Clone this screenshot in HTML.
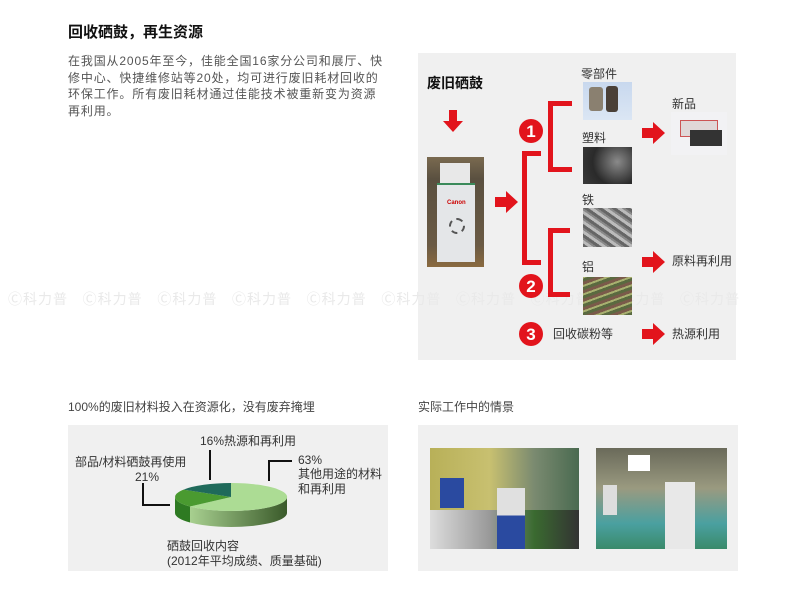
<!DOCTYPE html>
<html><head><meta charset="utf-8"><style>
body{margin:0;width:790px;height:596px;background:#fff;position:relative;overflow:hidden;font-family:"Liberation Sans","Noto Sans CJK SC",sans-serif;color:#333}
.a{position:absolute;white-space:nowrap}
.t{font-size:12px;line-height:12px}
</style></head><body>
<div class="a" style="left:68px;top:21px;font-size:15px;font-weight:bold;color:#111">回收硒鼓，再生资源</div>
<div class="a" style="left:68px;top:53px;font-size:12px;line-height:16.6px;color:#555;letter-spacing:0.85px">在我国从2005年至今，佳能全国16家分公司和展厅、快<br>修中心、快捷维修站等20处，均可进行废旧耗材回收的<br>环保工作。所有废旧耗材通过佳能技术被重新变为资源<br>再利用。</div>

<div class="a" style="left:418px;top:53px;width:318px;height:307px;background:#f0f0f0"></div>
<div class="a" style="left:427px;top:73px;font-size:14px;font-weight:bold;color:#111">废旧硒鼓</div>
<!-- watermarks -->
<div class="a" style="left:8px;top:289px;font-size:14px;color:#e9e9e9;letter-spacing:1px">Ⓒ科力普 &nbsp; Ⓒ科力普 &nbsp; Ⓒ科力普 &nbsp; Ⓒ科力普 &nbsp; Ⓒ科力普 &nbsp; Ⓒ科力普 &nbsp; Ⓒ科力普 &nbsp; Ⓒ科力普 &nbsp; Ⓒ科力普 &nbsp; Ⓒ科力普</div>
<svg class="a" style="left:0;top:0" width="790" height="596">
<g fill="#e2141c">
<polygon points="449,110 457,110 457,121 463,121 453,132 443,121 449,121"/>
<polygon points="495,197 506,197 506,191 518,202 506,213 506,207 495,207"/>
<polygon points="642,128 653,128 653,122 665,133 653,144 653,138 642,138"/>
<polygon points="642,257 653,257 653,251 665,262 653,273 653,267 642,267"/>
<polygon points="642,329 653,329 653,323 665,334 653,345 653,339 642,339"/>
<path d="M541,151 h-19 v114 h19 v-5 h-14 v-104 h14z"/>
<path d="M572,101 h-24 v71 h24 v-5 h-19 v-61 h19z"/>
<path d="M570,228 h-22 v69 h22 v-5 h-17 v-59 h17z"/>
<circle cx="531" cy="131" r="12"/><circle cx="531" cy="286" r="12"/><circle cx="531" cy="334" r="12"/>
</g>
<g fill="#fff" font-size="17" font-weight="bold" text-anchor="middle" font-family="Liberation Sans,sans-serif">
<text x="531" y="137">1</text><text x="531" y="292">2</text><text x="531" y="340">3</text></g>
</svg>
<!-- bin -->
<div class="a" style="left:427px;top:157px;width:57px;height:110px;background:linear-gradient(#7a6a50,#5a5040 20%,#6a5a44 80%,#8a6a40)"></div>
<div class="a" style="left:440px;top:163px;width:30px;height:20px;background:#e8e8e8"></div>
<div class="a" style="left:437px;top:183px;width:38px;height:77px;background:#e4e6e8;border-top:2px solid #3a8a5a"></div>
<div class="a" style="left:447px;top:200px;font-size:6px;color:#c00;font-weight:bold">Canon</div>
<div class="a" style="left:449px;top:218px;width:12px;height:12px;border:2px dashed #555;border-radius:50%"></div>
<!-- item images -->
<div class="a" style="left:583px;top:82px;width:49px;height:38px;background:linear-gradient(#c8d8ee,#dbe6f4);"></div>
<div class="a" style="left:589px;top:87px;width:14px;height:24px;background:#8a8070;border-radius:3px"></div>
<div class="a" style="left:606px;top:86px;width:12px;height:26px;background:#4a4038;border-radius:3px"></div>
<div class="a" style="left:583px;top:147px;width:49px;height:37px;background:radial-gradient(circle at 70% 40%,#8a8a8a,#2a2a2a 60%,#3a3a3a)"></div>
<div class="a" style="left:583px;top:208px;width:49px;height:39px;background:repeating-linear-gradient(35deg,#666 0 3px,#bbb 3px 6px,#888 6px 8px)"></div>
<div class="a" style="left:583px;top:277px;width:49px;height:38px;background:repeating-linear-gradient(-20deg,#5a6a40 0 3px,#a8b070 3px 5px,#7a5a4a 5px 8px)"></div>
<div class="a" style="left:671px;top:112px;width:56px;height:43px;background:#f2f2f4"></div>
<div class="a" style="left:680px;top:120px;width:36px;height:15px;background:#e0d8d8;border:1px solid #c55"></div>
<div class="a" style="left:690px;top:130px;width:32px;height:16px;background:#333"></div>
<div class="a t" style="left:581px;top:68px">零部件</div>
<div class="a t" style="left:582px;top:132px">塑料</div>
<div class="a t" style="left:582px;top:194px">铁</div>
<div class="a t" style="left:582px;top:261px">铝</div>
<div class="a t" style="left:553px;top:328px">回收碳粉等</div>
<div class="a t" style="left:672px;top:98px">新品</div>
<div class="a t" style="left:672px;top:255px">原料再利用</div>
<div class="a t" style="left:672px;top:328px">热源利用</div>

<div class="a t" style="left:68px;top:401px;color:#444">100%的废旧材料投入在资源化，没有废弃掩埋</div>
<div class="a t" style="left:418px;top:401px;color:#444">实际工作中的情景</div>
<div class="a" style="left:68px;top:425px;width:320px;height:146px;background:#f0f0f0"></div>
<div class="a" style="left:418px;top:425px;width:320px;height:146px;background:#f0f0f0"></div>
<svg class="a" style="left:0;top:0" width="790" height="596">
<defs><linearGradient id="s" x1="0" x2="1"><stop offset="0" stop-color="#a8d090"/><stop offset="1" stop-color="#3a5a2a"/></linearGradient></defs>
<path d="M287,497 A56,14 0 0,1 190,506.5 L190,522.5 A56,14 0 0,0 287,513 Z" fill="url(#s)"/>
<path d="M190,506.5 A56,14 0 0,1 175,497 L175,513 A56,14 0 0,0 190,522.5 Z" fill="#2e7a22"/>
<path d="M231,497 L231,483 A56,14 0 1,1 190,506.5 Z" fill="#acdc94"/>
<path d="M231,497 L190,506.5 A56,14 0 0,1 183.5,489.6 Z" fill="#4a9a30"/>
<path d="M231,497 L183.5,489.6 A56,14 0 0,1 231,483 Z" fill="#1f6a5a"/>
<g stroke="#111" stroke-width="2" fill="none">
<path d="M210,450 V480"/><path d="M143,483 V505 H170"/><path d="M269,481 V461 H292"/></g>
</svg>
<div class="a t" style="left:200px;top:435px;color:#333">16%热源和再利用</div>
<div class="a t" style="left:75px;top:456px">部品/材料硒鼓再使用</div>
<div class="a t" style="left:135px;top:471px">21%</div>
<div class="a t" style="left:298px;top:454px">63%</div>
<div class="a t" style="left:298px;top:468px">其他用途的材料</div>
<div class="a t" style="left:298px;top:483px">和再利用</div>
<div class="a t" style="left:167px;top:540px">硒鼓回收内容</div>
<div class="a t" style="left:167px;top:555px">(2012年平均成绩、质量基础)</div>
<!-- photos -->
<div class="a" style="left:430px;top:448px;width:149px;height:101px;background:linear-gradient(90deg,#b8b058,#c8c070 40%,#7a8a70 70%,#4a6a50)"></div>
<div class="a" style="left:430px;top:510px;width:149px;height:39px;background:linear-gradient(90deg,#ddd,#999 40%,#3a6a30 70%,#333)"></div>
<div class="a" style="left:440px;top:478px;width:24px;height:30px;background:#2a4aa0"></div>
<div class="a" style="left:497px;top:488px;width:28px;height:61px;background:linear-gradient(#e0e0e0 45%,#2a4aa0 45%)"></div>
<div class="a" style="left:596px;top:448px;width:131px;height:101px;background:linear-gradient(#6a6a5a,#9a9a80 40%,#4aa0a0 75%,#3a8a6a)"></div>
<div class="a" style="left:665px;top:482px;width:30px;height:67px;background:#e8e8e8"></div>
<div class="a" style="left:603px;top:485px;width:14px;height:30px;background:#ddd"></div>
<div class="a" style="left:628px;top:455px;width:22px;height:16px;background:#fff"></div>
</body></html>
